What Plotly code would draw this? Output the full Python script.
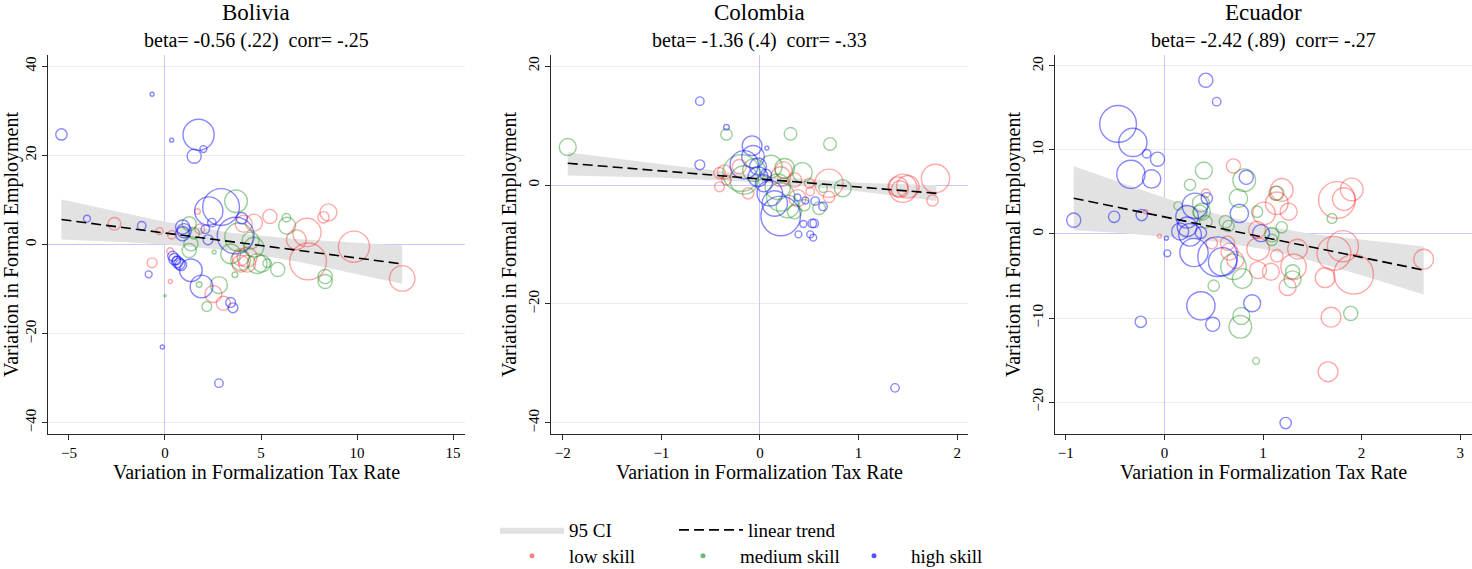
import plotly.graph_objects as go

# ---------------- data ----------------
countries = ["Bolivia", "Colombia", "Ecuador"]
subtitles = ["beta= -0.56 (.22)\u00a0\u00a0corr= -.25",
             "beta= -1.36 (.4)\u00a0\u00a0corr= -.33",
             "beta= -2.42 (.89)\u00a0\u00a0corr= -.27"]

# Bolivia
bol_low_x = [-2.63, -0.28, 0.36, 1.69, 1.81, 4.63, 5.46, 8.51, 8.25, 7.39, 6.84, 9.84, 7.45, 12.35,
             4.28, 3.94, -0.67, 0.27, 0.28, 2.52, 3.04, 4.1, 4.28, 3.94]
bol_low_y = [4.65, 3.0, 2.2, 7.4, 3.5, 4.9, 6.3, 7.2, 6.1, 2.7, 1.05, -0.5, -3.8, -7.6,
             -4.3, -2.85, -4.1, -1.5, -8.3, -11.1, -13.2, 4.65, -2.85, -4.3]
bol_low_w = [20, 6, 9, 4, 12, 36, 25, 36, 16, 100, 49, 121, 169, 81,
             36, 36, 12, 6, 2, 36, 25, 36, 49, 36]

bol_med_x = [3.7, 6.32, 6.36, 5.87, 8.34, 8.34, 5.04, 3.42, 1.26, 1.35, 1.26, 2.56, 3.85, 4.46,
             4.63, 3.94, 4.8, 5.32, 1.78, 2.81, 2.18, 3.64, 0.0, 1.5]
bol_med_y = [9.7, 6.0, 4.2, -5.6, -7.2, -8.3, -4.3, -2.1, 4.65, 0.15, -1.35, -1.7, 1.65, 0.9,
             -0.6, -3.6, -4.3, -4.2, -9.0, -9.1, -13.9, -6.8, -11.5, 2.5]
bol_med_w = [64, 9, 36, 25, 25, 25, 36, 49, 25, 25, 25, 2, 100, 36,
             49, 49, 49, 9, 4, 36, 12, 4, 0.6, 16]

bol_high_x = [-5.39, -0.67, 0.35, 1.75, 2.0, 1.52, -4.06, -1.21, 2.28, 2.92, 2.44, 2.1, 2.24, 3.68,
              4.0, -0.85, 0.92, 1.0, 0.92, 0.4, 0.5, 0.65, 0.75, 0.83, 0.6, 1.35, 1.9, 3.42,
              3.54, 2.81, -0.14]
bol_high_y = [24.7, 33.7, 23.4, 24.6, 21.4, 19.8, 5.8, 4.2, 7.5, 8.4, 4.9, 3.4, 1.05, 2.0,
              5.9, -6.7, 3.9, 3.1, 2.4, -2.6, -3.3, -3.9, -4.3, -4.6, -3.6, -5.8, -9.4, -13.0,
              -14.2, -31.1, -23.0]
bol_high_w = [16, 2, 2, 121, 6, 25, 6, 9, 100, 169, 9, 9, 12, 169,
              16, 6, 25, 25, 25, 12, 16, 16, 16, 16, 9, 64, 64, 12,
              12, 9, 2]

bol_trend_x = [-5.39, 12.35]
bol_trend_y = [5.6, -4.35]
bol_ci_x = [-5.39, -2.0, 0.0, 3.5, 7.0, 10.0, 12.35]
bol_ci_lo = [1.1, 0.5, 0.0, -1.4, -3.9, -6.6, -8.8]
bol_ci_hi = [10.1, 6.9, 5.1, 2.6, 1.2, 0.4, -0.2]

# Colombia
col_low_x = [-0.41, -0.36, -0.34, -0.41, -0.12, 0.70, 0.70, 0.5, 0.51, 1.45, 1.5, 1.4, 1.42, 1.78,
             1.75, 0.24, 0.21, 0.38, 0.35, -0.21]
col_low_y = [2.0, 2.2, 0.85, -0.3, -1.4, 0.3, -2.0, 0.3, -1.1, -0.55, -0.3, -0.3, -0.7, 1.1,
             -2.6, 2.5, 1.4, -2.2, 0.85, 3.1]
col_low_w = [16, 25, 12, 12, 16, 100, 16, 12, 9, 100, 64, 49, 36, 100,
             16, 36, 49, 36, 25, 25]

col_med_x = [-1.95, -0.34, 0.31, 0.71, 0.84, 0.64, 0.6, 0.45, 0.35, 0.43, 0.25, 0.11, 0.18, 0.21,
             0.28, -0.06, -0.16, -0.19]
col_med_y = [6.4, 8.5, 8.6, 6.9, -0.55, -0.55, -3.9, -3.4, -4.5, 2.1, 2.8, 3.1, -0.3, -2.0,
             -3.6, 2.5, 0.85, 2.0]
col_med_w = [36, 16, 20, 20, 36, 9, 20, 16, 25, 49, 49, 64, 81, 100,
             64, 64, 100, 169]

col_high_x = [-0.61, -0.34, -0.61, 0.07, -0.08, -0.07, -0.16, 0.21, 0.15, 0.1, 0.04, 0.06, 0.38,
              0.46, 0.56, 0.64, 0.44, 0.53, 0.55, 0.39, 0.51, 0.54, -0.02, -0.02, 1.37]
col_high_y = [14.1, 9.7, 3.4, 6.2, 6.6, 4.75, 3.4, -5.2, -3.1, -1.4, 0.3, 1.7, -2.1,
              -2.6, -2.7, -3.6, -6.55, -6.45, -6.45, -8.3, -8.3, -8.85, 3.1, 1.4, -34.1]
col_high_w = [9, 4, 12, 2, 49, 64, 100, 196, 81, 81, 36, 16, 6,
              6, 9, 9, 6, 9, 9, 6, 6, 6, 36, 49, 9]

col_trend_x = [-1.95, 1.79]
col_trend_y = [3.65, -1.4]
col_ci_x = [-1.95, -1.0, 0.0, 0.5, 1.0, 1.79]
col_ci_lo = [1.6, 1.2, 0.45, -0.25, -1.05, -2.7]
col_ci_hi = [5.5, 3.5, 1.6, 0.95, 0.4, -0.05]

# Ecuador
ecu_low_x = [-0.19, -0.05, 0.70, 0.42, 1.01, 0.94, 1.13, 1.19, 1.14, 1.26, 1.75, 1.82, 1.9, 2.63,
             1.35, 1.72, 1.81, 1.92, 1.31, 1.14, 0.95, 0.95, 1.08, 0.64, 0.66, 0.48, 0.72, 1.63,
             1.25, 1.66, 1.69]
ecu_low_y = [2.65, -0.25, 8.1, 4.85, 2.45, 0.5, 4.85, 5.25, 3.65, 2.65, 4.05, 4.15, 5.3, -3.0,
             -1.8, -2.3, -1.45, -4.8, -3.9, -2.6, -1.8, -4.3, -4.5, -1.1, -2.1, -1.1, -3.1, -5.2,
             -6.3, -16.4, -9.9]
ecu_low_w = [2, 2, 25, 9, 64, 36, 25, 64, 64, 36, 169, 64, 64, 49,
             49, 144, 121, 196, 81, 20, 64, 36, 36, 25, 36, 16, 36, 49,
             36, 49, 49]

ecu_med_x = [0.4, 0.81, 0.26, 0.75, 0.14, 0.37, 0.38, 0.42, 0.62, 0.65, 0.94, 1.19, 1.09, 1.09,
             1.14, 1.7, 0.70, 0.79, 1.3, 1.3, 0.5, 0.78, 0.77, 0.93, 1.89, 0.36]
ecu_med_y = [7.55, 6.4, 5.85, 4.25, 3.35, 3.65, 2.65, 1.45, 1.45, 0.95, 2.65, 0.8, -0.1, -0.7,
             4.85, 1.85, -3.9, -5.3, -4.5, -5.4, -6.15, -9.75, -11.05, -15.1, -9.45, 2.6]
ecu_med_w = [36, 64, 16, 42, 9, 36, 36, 20, 20, 16, 16, 16, 25, 16,
             25, 12, 81, 49, 25, 36, 16, 36, 64, 6, 25, 25]

ecu_high_x = [-0.92, -0.51, -0.23, 0.02, 0.03, -0.47, -0.32, -0.18, -0.07, -0.34, -0.13, 0.42,
              0.53, 0.83, 0.76, 0.43, 0.31, 0.23, 0.23, 0.16, 0.26, 0.37, 0.98, 0.30, 0.54, 0.59,
              0.37, 0.89, 0.49, -0.24, 1.23]
ecu_high_y = [1.65, 2.05, 2.25, -0.5, -2.3, 13.1, 10.9, 9.55, 8.9, 7.1, 6.55, 18.3,
              15.75, 6.75, 2.45, 4.25, 3.35, 2.05, 0.85, 0.3, -0.1, 0.15, 0.1, -2.2, -2.7, -3.3,
              -8.55, -8.25, -10.75, -10.45, -22.5]
ecu_high_w = [25, 16, 16, 2, 6, 169, 100, 9, 25, 100, 42, 25,
              9, 25, 42, 16, 81, 64, 49, 36, 64, 16, 36, 100, 196, 100,
              100, 36, 25, 16, 16]

ecu_trend_x = [-0.92, 2.63]
ecu_trend_y = [4.25, -4.3]
ecu_ci_x = [-0.92, -0.4, 0.0, 0.5, 1.0, 1.5, 2.0, 2.63]
ecu_ci_lo = [0.45, 0.1, -0.3, -0.9, -1.8, -3.2, -4.9, -7.2]
ecu_ci_hi = [8.05, 5.9, 4.3, 2.5, 1.0, 0.0, -0.7, -1.5]

x_ticks = [[-5, 0, 5, 10, 15], [-2, -1, 0, 1, 2], [-1, 0, 1, 2, 3]]
y_ticks = [[-40, -20, 0, 20, 40], [-40, -20, 0, 20], [-20, -10, 0, 10, 20]]

# ---------------- style ----------------
FONT = "Liberation Serif"
RED = "rgba(255,30,30,0.55)"
GREEN = "rgba(20,140,20,0.6)"
BLUE = "rgba(20,20,255,0.72)"
BAND = "rgb(226,226,226)"
REF = "rgb(200,200,255)"
AX = "rgb(40,40,40)"
SIZEREF = 0.25

x_domains = [(0.0326, 0.3159), (0.3743, 0.6576), (0.7167, 1.0)]
y_domain = (0.2373, 0.9033)
x_ranges = [(-6.09, 15.62), (-2.12, 2.11), (-1.11, 3.12)]
y_ranges = [(-42.5, 42.5), (-41.85, 21.85), (-23.8, 21.3)]

panels = [
    dict(low=(bol_low_x, bol_low_y, bol_low_w), med=(bol_med_x, bol_med_y, bol_med_w),
         high=(bol_high_x, bol_high_y, bol_high_w), tx=bol_trend_x, ty=bol_trend_y,
         cx=bol_ci_x, clo=bol_ci_lo, chi=bol_ci_hi),
    dict(low=(col_low_x, col_low_y, col_low_w), med=(col_med_x, col_med_y, col_med_w),
         high=(col_high_x, col_high_y, col_high_w), tx=col_trend_x, ty=col_trend_y,
         cx=col_ci_x, clo=col_ci_lo, chi=col_ci_hi),
    dict(low=(ecu_low_x, ecu_low_y, ecu_low_w), med=(ecu_med_x, ecu_med_y, ecu_med_w),
         high=(ecu_high_x, ecu_high_y, ecu_high_w), tx=ecu_trend_x, ty=ecu_trend_y,
         cx=ecu_ci_x, clo=ecu_ci_lo, chi=ecu_ci_hi),
]

fig = go.Figure()
for i, p in enumerate(panels):
    xa = "x" if i == 0 else f"x{i+1}"
    ya = "y" if i == 0 else f"y{i+1}"
    # CI band
    fig.add_trace(go.Scatter(
        x=list(p["cx"]) + list(p["cx"])[::-1], y=list(p["chi"]) + list(p["clo"])[::-1],
        fill="toself", fillcolor=BAND, line=dict(width=0, color=BAND), mode="lines",
        name="95 CI", legend="legend", showlegend=(i == 0), hoverinfo="skip",
        xaxis=xa, yaxis=ya))
    for key, col, nm in (("low", RED, "low skill"), ("med", GREEN, "medium skill"),
                         ("high", BLUE, "high skill")):
        xs, ys, ws = p[key]
        fig.add_trace(go.Scatter(
            x=xs, y=ys, mode="markers", name=nm, showlegend=False,
            marker=dict(symbol="circle-open", size=ws, sizemode="area", sizeref=SIZEREF,
                        color=col, line=dict(width=1.4, color=col)),
            xaxis=xa, yaxis=ya))
    fig.add_trace(go.Scatter(
        x=p["tx"], y=p["ty"], mode="lines", name="linear trend",
        line=dict(color="black", width=1.6, dash="10px,5px"),
        legend="legend", showlegend=(i == 0), xaxis=xa, yaxis=ya))

# legend proxies for the skill groups
for col, nm in ((RED, "low skill"), (GREEN, "medium skill"), (BLUE, "high skill")):
    fig.add_trace(go.Scatter(x=[None], y=[None], mode="markers", name=nm,
                             marker=dict(symbol="circle", size=5, color=col),
                             legend="legend2", showlegend=True))

layout = dict(
    width=1472, height=569, margin=dict(l=0, r=0, t=0, b=0, autoexpand=False),
    paper_bgcolor="white", plot_bgcolor="white",
    font=dict(family=FONT, size=16, color="black"),
    legend=dict(orientation="h", x=495 / 1472, xanchor="left", y=1 - 530 / 569, yanchor="middle",
                itemwidth=64, entrywidth=100, font=dict(size=19), bgcolor="rgba(0,0,0,0)"),
    legend2=dict(orientation="h", x=495 / 1472, xanchor="left", y=1 - 556 / 569, yanchor="middle",
                 itemwidth=64, entrywidth=92, font=dict(size=19), bgcolor="rgba(0,0,0,0)"),
)
annotations = []
for i in range(3):
    sfx = "" if i == 0 else str(i + 1)
    layout["xaxis" + sfx] = dict(
        domain=x_domains[i], range=x_ranges[i], anchor="y" + sfx,
        tickvals=x_ticks[i], ticks="outside", ticklen=5, tickcolor=AX,
        showline=True, linecolor=AX, linewidth=1.2, showgrid=False,
        zeroline=True, zerolinecolor=REF, zerolinewidth=1.2,
        tickfont=dict(size=15), automargin=False,
        title=dict(text="Variation in Formalization Tax Rate", font=dict(size=20), standoff=1))
    layout["yaxis" + sfx] = dict(
        domain=y_domain, range=y_ranges[i], anchor="x" + sfx,
        tickvals=y_ticks[i], ticks="outside", ticklen=5, tickcolor=AX, tickangle=-90,
        showline=True, linecolor=AX, linewidth=1.2, showgrid=True, gridcolor="rgb(236,236,236)",
        gridwidth=1.2, zeroline=True, zerolinecolor=REF, zerolinewidth=1.2,
        tickfont=dict(size=15), automargin=False,
        title=dict(text="Variation in Formal Employment", font=dict(size=20), standoff=3))
    cx = (x_domains[i][0] + x_domains[i][1]) / 2
    annotations.append(dict(text=countries[i], x=cx, y=1 - 13 / 569, xref="paper", yref="paper",
                            showarrow=False, font=dict(size=23), xanchor="center", yanchor="middle"))
    annotations.append(dict(text=subtitles[i], x=cx, y=1 - 40 / 569, xref="paper", yref="paper",
                            showarrow=False, font=dict(size=20), xanchor="center", yanchor="middle"))
layout["annotations"] = annotations
fig.update_layout(**layout)
fig.write_html("out.html")
